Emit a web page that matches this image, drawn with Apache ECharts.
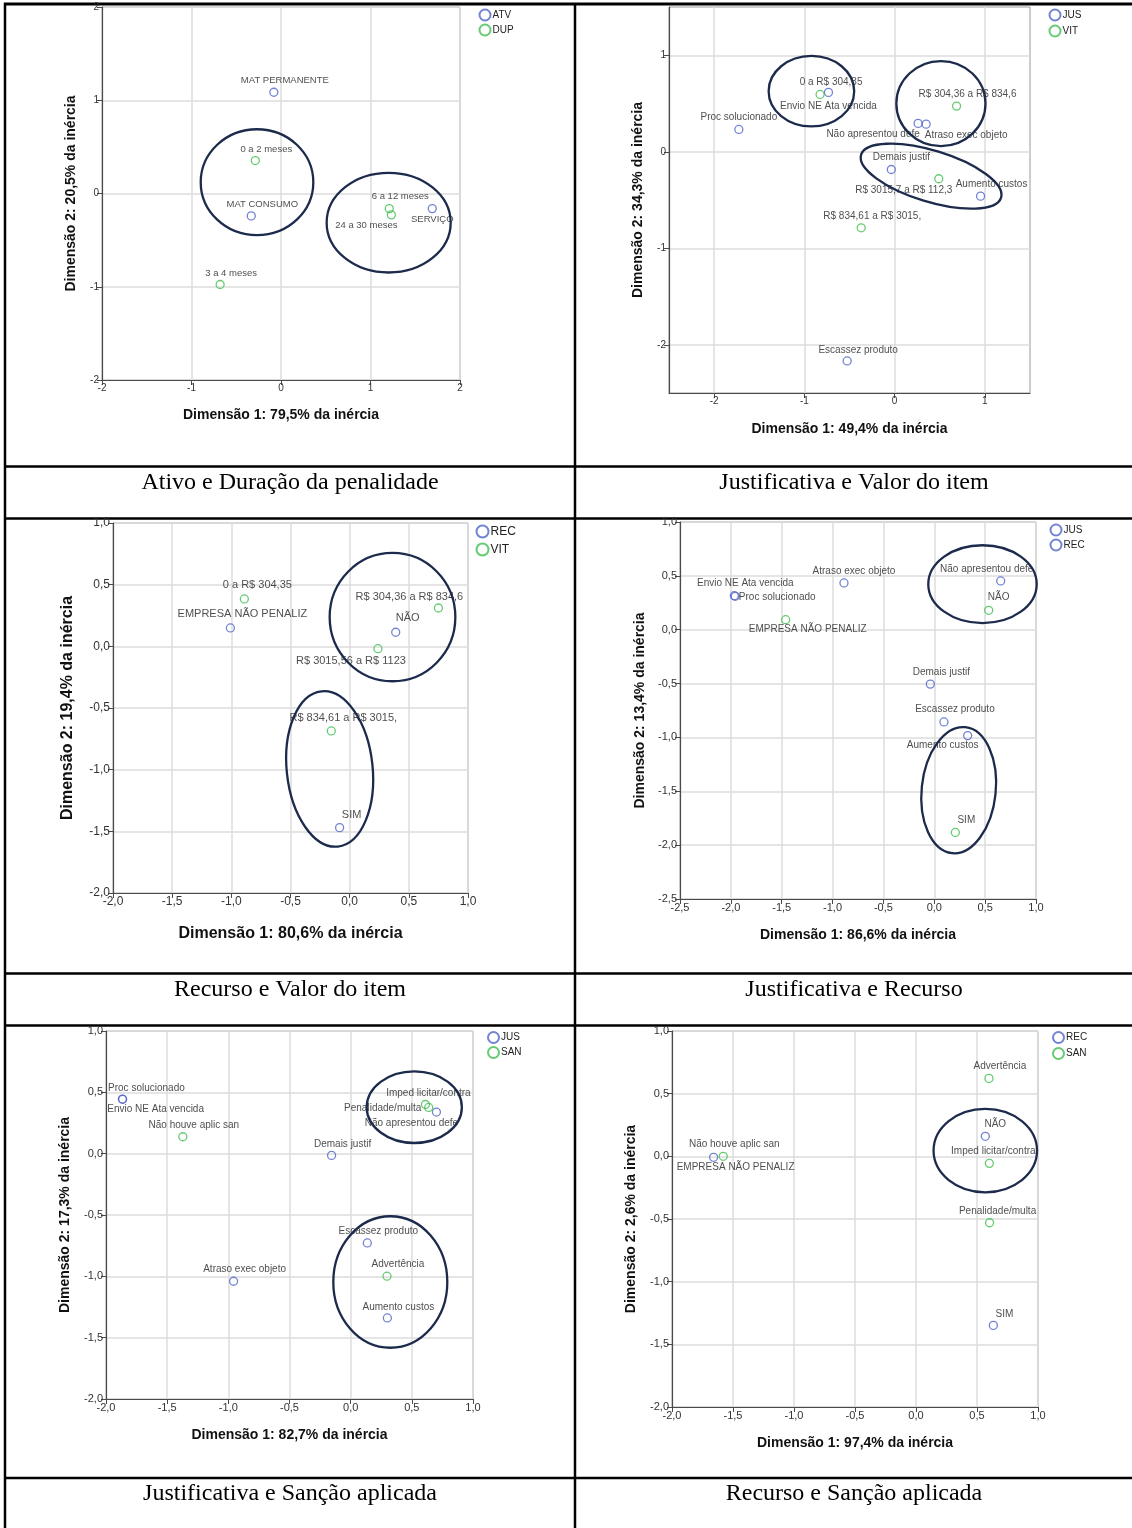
<!DOCTYPE html>
<html><head><meta charset="utf-8">
<script src="https://cdn.jsdelivr.net/npm/echarts@6/dist/echarts.min.js"></script>
<style>html,body{margin:0;padding:0;background:#fff}#c{width:1132px;height:1528px}</style>
</head><body><div id="c"></div>
<script>
// ---------------- DATA ----------------
// Panel 1: Ativo e Duração da penalidade
const p1_ATV_names = ['MAT PERMANENTE', 'MAT CONSUMO', 'SERVIÇO'];
const p1_ATV_x = [-0.08, -0.332, 1.69];
const p1_ATV_y = [1.086, -0.24, -0.162];
const p1_DUP_names = ['0 a 2 meses', '3 a 4 meses', '6 a 12 meses', '24 a 30 meses'];
const p1_DUP_x = [-0.287, -0.68, 1.21, 1.233];
const p1_DUP_y = [0.353, -0.976, -0.162, -0.229];
const p1_ellipses = [[-0.268, 0.121, 0.629, 0.568, 0], [1.203, -0.313, 0.693, 0.534, 0]];

// Panel 2: Justificativa e Valor do item
const p2_JUS_names = ['Envio NE Ata vencida', 'Proc solucionado', 'Não apresentou defe', 'Atraso exec objeto', 'Demais justif', 'Aumento custos', 'Escassez produto'];
const p2_JUS_x = [-0.733, -1.726, 0.26, 0.349, -0.037, 0.952, -0.526];
const p2_JUS_y = [0.615, 0.231, 0.294, 0.286, -0.184, -0.46, -2.168];
const p2_VIT_names = ['0 a R$ 304,35', 'R$ 304,36 a R$ 834,6', 'R$ 3015,7 a R$ 112,3', 'R$ 834,61 a R$ 3015,'];
const p2_VIT_x = [-0.826, 0.686, 0.489, -0.37];
const p2_VIT_y = [0.594, 0.473, -0.28, -0.788];
const p2_ellipses = [[-0.922, 0.628, 0.474, 0.365, 0], [0.513, 0.499, 0.494, 0.441, 0], [0.404, -0.253, 0.811, 0.265, -17]];
const p2_ticks = [-2, -1, 0, 1];

// Panel 3: Recurso e Valor do item
const p3_REC_names = ['EMPRESA NÃO PENALIZ', 'NÃO', 'SIM'];
const p3_REC_x = [-1.008, 0.389, -0.085];
const p3_REC_y = [0.149, 0.114, -1.47];
const p3_VIT_names = ['0 a R$ 304,35', 'R$ 304,36 a R$ 834,6', 'R$ 3015,56 a R$ 1123', 'R$ 834,61 a R$ 3015,'];
const p3_VIT_x = [-0.89, 0.75, 0.239, -0.155];
const p3_VIT_y = [0.384, 0.311, -0.019, -0.686];
const p3_ellipses = [[0.362, 0.237, 0.531, 0.52, 0], [-0.169, -0.994, 0.363, 0.633, 6]];

// Panel 4: Justificativa e Recurso
const p4_JUS_names = ['Atraso exec objeto', 'Envio NE Ata vencida', 'Proc solucionado', 'Não apresentou defe', 'Demais justif', 'Escassez produto', 'Aumento custos'];
const p4_JUS_x = [-0.888, -1.966, -1.957, 0.653, -0.039, 0.095, 0.328];
const p4_JUS_y = [0.434, 0.316, 0.31, 0.453, -0.505, -0.856, -0.983];
const p4_REC_names = ['EMPRESA NÃO PENALIZ', 'NÃO', 'SIM'];
const p4_REC_x = [-1.461, 0.535, 0.207];
const p4_REC_y = [0.093, 0.18, -1.882];
const p4_ellipses = [[0.474, 0.423, 0.533, 0.361, 0], [0.24, -1.49, 0.364, 0.588, -6]];

// Panel 5: Justificativa e Sanção aplicada
const p5_JUS_names = ['Proc solucionado', 'Envio NE Ata vencida', 'Demais justif', 'Não apresentou defe', 'Escassez produto', 'Aumento custos', 'Atraso exec objeto'];
const p5_JUS_x = [-1.866, -1.864, -0.156, 0.701, 0.136, 0.3, -0.957];
const p5_JUS_y = [0.445, 0.443, -0.014, 0.339, -0.728, -1.339, -1.04];
const p5_SAN_names = ['Não houve aplic san', 'Imped licitar/contra', 'Penalidade/multa', 'Advertência'];
const p5_SAN_x = [-1.372, 0.611, 0.638, 0.297];
const p5_SAN_y = [0.138, 0.401, 0.377, -0.999];
const p5_ellipses = [[0.52, 0.379, 0.389, 0.292, 0], [0.324, -1.046, 0.466, 0.536, 0]];

// Panel 6: Recurso e Sanção aplicada
const p6_REC_names = ['NÃO', 'SIM', 'EMPRESA NÃO PENALIZ'];
const p6_REC_x = [0.568, 0.634, -1.659];
const p6_REC_y = [0.16, -1.349, -0.008];
const p6_SAN_names = ['Advertência', 'Imped licitar/contra', 'Penalidade/multa', 'Não houve aplic san'];
const p6_SAN_x = [0.598, 0.601, 0.603, -1.58];
const p6_SAN_y = [0.622, -0.056, -0.53, 0.0];
const p6_ellipses = [[0.568, 0.046, 0.424, 0.333, 0]];

const captions = ['Ativo e Duração da penalidade', 'Justificativa e Valor do item', 'Recurso e Valor do item', 'Justificativa e Recurso', 'Justificativa e Sanção aplicada', 'Recurso e Sanção aplicada'];
const xTitles = ['Dimensão 1: 79,5% da inércia', 'Dimensão 1: 49,4% da inércia', 'Dimensão 1: 80,6% da inércia', 'Dimensão 1: 86,6% da inércia', 'Dimensão 1: 82,7% da inércia', 'Dimensão 1: 97,4% da inércia'];
const yTitles = ['Dimensão 2: 20,5% da inércia', 'Dimensão 2: 34,3% da inércia', 'Dimensão 2: 19,4% da inércia', 'Dimensão 2: 13,4% da inércia', 'Dimensão 2: 17,3% da inércia', 'Dimensão 2: 2,6% da inércia'];

// ---------------- LAYOUT / STYLE ----------------
const BLUE = '#5064c8', GREEN = '#3fbe4e', NAVY = '#1c2a4c';
const FONT = '"Liberation Sans", Arial, sans-serif';
const SERIF = '"Liberation Serif", "Times New Roman", serif';

// label offsets (pixels, label centre relative to point)
const p1_ATV_off = [[11, -12], [11, -12], [0, 11]];
const p1_DUP_off = [[11, -11], [11, -11], [11, -12], [-25, 11]];
const p2_JUS_off = [[0, 14], [0, -12], [-45, 11], [40, 11], [10, -12], [11, -12], [11, -11]];
const p2_VIT_off = [[11, -12], [11, -12], [-35, 11], [11, -12]];
const p3_REC_off = [[12, -14], [12, -14], [12, -13]];
const p3_VIT_off = [[13, -14], [-29, -11], [-27, 12], [12, -13]];
const p4_JUS_off = [[10, -12], [11, -12], [42, 1], [-14, -12], [11, -12], [11, -13], [-25, 10]];
const p4_REC_off = [[22, 10], [10, -13], [11, -12]];
const p5_JUS_off = [[24, -11], [33, 10], [11, -11], [-25, 11], [11, -12], [11, -11], [11, -12]];
const p5_SAN_off = [[11, -11], [3, -11], [-46, 1], [11, -12]];
const p6_REC_off = [[10, -12], [11, -11], [22, 10]];
const p6_SAN_off = [[11, -12], [4, -12], [8, -12], [11, -12]];

const intFmt = v => String(Math.round(v));
const decFmt = v => v.toFixed(1).replace('.', ',');

const panels = [
  { grid: { left: 102, top: 7, width: 358, height: 373 }, x: [-2, 2, 1], y: [-2, 2, 1], fmt: intFmt,
    tickFont: 10, labelFont: 9.5, titleFont: 14, xGap: 28, yGap: 24, legend: { left: 478.5, top: 8.5, size: 11, gap: 2, font: 10 },
    series: [{ name: 'ATV', color: BLUE, names: p1_ATV_names, xs: p1_ATV_x, ys: p1_ATV_y, off: p1_ATV_off },
             { name: 'DUP', color: GREEN, names: p1_DUP_names, xs: p1_DUP_x, ys: p1_DUP_y, off: p1_DUP_off }],
    ellipses: p1_ellipses },
  { grid: { left: 669, top: 7, width: 361, height: 386 }, x: [-2.5, 1.5, null], y: [-2.5, 1.5, null], ticks: p2_ticks, fmt: intFmt,
    tickFont: 10, labelFont: 10, titleFont: 14, xGap: 29, yGap: 24, legend: { left: 1048.5, top: 8.5, size: 11, gap: 3, font: 10 },
    series: [{ name: 'JUS', color: BLUE, names: p2_JUS_names, xs: p2_JUS_x, ys: p2_JUS_y, off: p2_JUS_off },
             { name: 'VIT', color: GREEN, names: p2_VIT_names, xs: p2_VIT_x, ys: p2_VIT_y, off: p2_VIT_off }],
    ellipses: p2_ellipses },
  { grid: { left: 113, top: 523, width: 355, height: 370 }, x: [-2, 1, 0.5], y: [-2, 1, 0.5], fmt: decFmt,
    tickFont: 12, labelFont: 11, titleFont: 16, xGap: 33, yGap: 37, legend: { left: 475.5, top: 524.5, size: 12, gap: 4, font: 12 },
    series: [{ name: 'REC', color: BLUE, names: p3_REC_names, xs: p3_REC_x, ys: p3_REC_y, off: p3_REC_off },
             { name: 'VIT', color: GREEN, names: p3_VIT_names, xs: p3_VIT_x, ys: p3_VIT_y, off: p3_VIT_off }],
    ellipses: p3_ellipses },
  { grid: { left: 680, top: 522, width: 356, height: 377 }, x: [-2.5, 1, 0.5], y: [-2.5, 1, 0.5], fmt: decFmt,
    tickFont: 11, labelFont: 10, titleFont: 14, xGap: 29, yGap: 33, legend: { left: 1049.5, top: 523.5, size: 11, gap: 2, font: 10 },
    series: [{ name: 'JUS', color: BLUE, names: p4_JUS_names, xs: p4_JUS_x, ys: p4_JUS_y, off: p4_JUS_off },
             { name: 'REC', color: GREEN, names: p4_REC_names, xs: p4_REC_x, ys: p4_REC_y, off: p4_REC_off }],
    ellipses: p4_ellipses },
  { grid: { left: 106, top: 1031, width: 367, height: 368 }, x: [-2, 1, 0.5], y: [-2, 1, 0.5], fmt: decFmt,
    tickFont: 11, labelFont: 10, titleFont: 14, xGap: 29, yGap: 34, legend: { left: 487, top: 1031, size: 11, gap: 2, font: 10 },
    series: [{ name: 'JUS', color: BLUE, names: p5_JUS_names, xs: p5_JUS_x, ys: p5_JUS_y, off: p5_JUS_off },
             { name: 'SAN', color: GREEN, names: p5_SAN_names, xs: p5_SAN_x, ys: p5_SAN_y, off: p5_SAN_off }],
    ellipses: p5_ellipses },
  { grid: { left: 672, top: 1031, width: 366, height: 376 }, x: [-2, 1, 0.5], y: [-2, 1, 0.5], fmt: decFmt,
    tickFont: 11, labelFont: 10, titleFont: 14, xGap: 29, yGap: 34, legend: { left: 1052, top: 1031, size: 11, gap: 3, font: 10 },
    series: [{ name: 'REC', color: BLUE, names: p6_REC_names, xs: p6_REC_x, ys: p6_REC_y, off: p6_REC_off },
             { name: 'SAN', color: GREEN, names: p6_SAN_names, xs: p6_SAN_x, ys: p6_SAN_y, off: p6_SAN_off }],
    ellipses: p6_ellipses }
];

const grids = [], xAxes = [], yAxes = [], series = [], legends = [];

function axisCfg(i, p, range, name, gap, isY) {
  const a = {
    type: 'value', gridIndex: i, min: range[0], max: range[1],
    axisLine: { show: true, onZero: false, lineStyle: { color: '#4a4a4a', width: 1.2 } },
    axisTick: { show: true, inside: false, length: 5, lineStyle: { color: '#4a4a4a' } },
    axisLabel: { fontSize: p.tickFont, color: '#333', margin: 3, fontFamily: FONT, formatter: p.fmt },
    splitLine: { show: true, lineStyle: { color: '#dcdcdc', width: 1.5 } },
    name: name, nameLocation: 'middle', nameGap: gap,
    nameTextStyle: { fontWeight: 'bold', fontSize: p.titleFont, color: '#111', fontFamily: FONT }
  };
  if (range[2] != null) a.interval = range[2];
  if (p.ticks) { a.axisTick.customValues = p.ticks; a.axisLabel.customValues = p.ticks; }
  if (isY) a.nameRotate = 90;
  return a;
}

panels.forEach((p, i) => {
  grids.push(Object.assign({ show: true, borderColor: '#9a9a9a', borderWidth: 1, backgroundColor: 'transparent' }, p.grid));
  xAxes.push(axisCfg(i, p, p.x, xTitles[i], p.xGap, false));
  yAxes.push(axisCfg(i, p, p.y, yTitles[i], p.yGap, true));
  p.series.forEach(s => {
    series.push({
      type: 'scatter', name: s.name, xAxisIndex: i, yAxisIndex: i, symbol: 'circle', symbolSize: 8, silent: true, z: 3,
      itemStyle: { color: 'rgba(255,255,255,0)', borderColor: s.color, borderWidth: 1.3 },
      emphasis: { disabled: true },
      label: { show: true, position: 'inside', formatter: '{b}', fontSize: p.labelFont, color: '#222', fontFamily: FONT, align: 'center', verticalAlign: 'middle' },
      data: s.names.map((n, k) => ({ name: n, value: [s.xs[k], s.ys[k]], label: { offset: s.off[k] } }))
    });
  });
  series.push({
    type: 'custom', xAxisIndex: i, yAxisIndex: i, coordinateSystem: 'cartesian2d', silent: true, clip: false, z: 6,
    encode: { x: 0, y: 1 }, data: p.ellipses,
    renderItem: (params, api) => {
      const c = api.coord([api.value(0), api.value(1)]);
      const sz = api.size([api.value(2), api.value(3)]);
      return { type: 'ellipse', x: c[0], y: c[1], rotation: api.value(4) * Math.PI / 180,
        shape: { cx: 0, cy: 0, rx: sz[0], ry: sz[1] },
        style: { fill: null, stroke: NAVY, lineWidth: 2.3 } };
    }
  });
  legends.push({
    orient: 'vertical', left: p.legend.left, top: p.legend.top, padding: 0,
    itemWidth: p.legend.size, itemHeight: p.legend.size, itemGap: p.legend.gap, icon: 'circle',
    selectedMode: false, data: p.series.map(s => s.name),
    textStyle: { fontSize: p.legend.font, color: '#222', fontFamily: FONT, padding: [0, 0, 0, -3] }
  });
});

// table lines + captions
const graphic = [];
function hline(y, w) { graphic.push({ type: 'line', silent: true, shape: { x1: 4, y1: y, x2: 1132, y2: y }, style: { stroke: '#000', lineWidth: w } }); }
function vline(x, w) { graphic.push({ type: 'line', silent: true, shape: { x1: x, y1: 3, x2: x, y2: 1528 }, style: { stroke: '#000', lineWidth: w } }); }
hline(4, 3); hline(466.5, 2.5); hline(518.5, 2.5); hline(973.5, 2.5); hline(1025.5, 2.5); hline(1478, 2.5);
vline(5, 2.5); vline(575, 2.5);
const capPos = [[290, 483], [854, 483], [290, 990], [854, 990], [290, 1494], [854, 1494]];
captions.forEach((t, i) => {
  graphic.push({ type: 'text', silent: true, x: capPos[i][0], y: capPos[i][1],
    style: { text: t, fontSize: 24, fontFamily: SERIF, fill: '#000', align: 'center', verticalAlign: 'middle' } });
});

const chart = echarts.init(document.getElementById('c'), null, { renderer: 'canvas' });
chart.setOption({
  animation: false, backgroundColor: '#fff',
  grid: grids, xAxis: xAxes, yAxis: yAxes, series: series, legend: legends, graphic: graphic
});
</script></body></html>
